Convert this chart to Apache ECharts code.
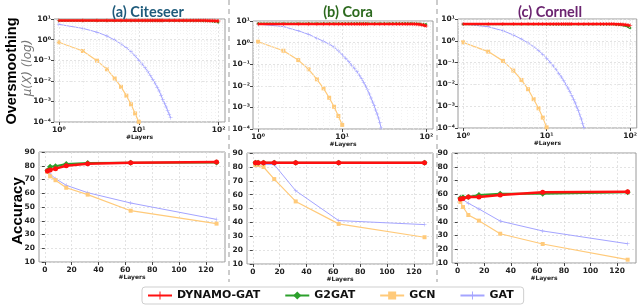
<!DOCTYPE html>
<html><head><meta charset="utf-8">
<script src="https://cdn.jsdelivr.net/npm/echarts@6/dist/echarts.min.js"></script>
<style>html,body{margin:0;padding:0;background:#fff}#c{width:640px;height:307px}</style>
</head><body><div id="c"></div>
<script>
// ---------- data ----------
const seriesNames = ['DYNAMO-GAT', 'G2GAT', 'GCN', 'GAT'];
const panelTitles = ['(a) Citeseer', '(b) Cora', '(c) Cornell'];
const osLayers = [1,2,3,4,5,6,7,8,9,10,11,12,13,14,15,16,17,18,19,20,24,28,32,36,40,44,48,52,56,60,64,68,72,76,80,84,88,92,96,100];
const shortLayers = [1,2,3,4,5,6,7,8,9,10,11,12,13,14,15,16,17,18,19,20,21,22,23,24,25,26,27,28,29];
const accLayers = [2,4,8,16,32,64,128];
const logTicks = [1, 10, 100];
const accXTicks = [0, 20, 40, 60, 80, 100, 120];

// Oversmoothing mu(X)
const dynOsCite = [8.4,8.4,8.4,8.4,8.4,8.4,8.4,8.4,8.4,8.4,8.4,8.4,8.4,8.4,8.4,8.4,8.4,8.4,8.4,8.4,8.4,8.4,8.4,8.4,8.4,8.4,8.4,8.4,8.4,8.4,8.4,8.4,8.3,8.3,8.3,8.2,8.2,8.1,8.0,7.9];
const g2OsCite  = [8.2,8.2,8.2,8.2,8.2,8.2,8.2,8.2,8.2,8.2,8.2,8.2,8.2,8.2,8.2,8.2,8.2,8.2,8.2,8.2,8.2,8.2,8.2,8.2,8.2,8.2,8.2,8.2,8.2,8.2,8.1,8.0,8.0,7.9,7.8,7.7,7.5,7.3,7.1,6.9];
const gcnOsCite = [0.74,0.28,0.095,0.036,0.013,0.0051,0.0019,0.00072,0.00026,0.000102];
const gatOsCite = [5.5,3.5,2.3,1.5,0.95,0.62,0.40,0.26,0.165,0.10,0.066,0.043,0.028,0.018,0.0115,0.0075,0.0049,0.0032,0.0020,0.0012,0.00082,0.00054,0.00036,0.00024,0.00016];

const dynOsCora = [7.3,7.3,7.3,7.3,7.3,7.3,7.3,7.3,7.3,7.3,7.3,7.3,7.3,7.3,7.3,7.3,7.3,7.3,7.3,7.3,7.3,7.3,7.3,7.3,7.3,7.3,7.3,7.3,7.3,7.3,7.3,7.2,7.2,7.1,7.0,6.9,6.7,6.5,6.2,5.8];
const g2OsCora  = [7.6,7.6,7.6,7.6,7.6,7.6,7.6,7.6,7.6,7.6,7.6,7.6,7.6,7.6,7.6,7.6,7.6,7.6,7.6,7.6,7.6,7.6,7.6,7.6,7.6,7.6,7.6,7.6,7.6,7.6,7.6,7.6,7.5,7.5,7.5,7.4,7.3,7.2,7.0,6.8];
const gcnOsCora = [1.1,0.42,0.155,0.058,0.02,0.0076,0.0028,0.00107,0.0004,0.000155];
const gatOsCora = [7.2,5.5,3.5,2.4,1.6,1.15,0.85,0.62,0.42,0.27,0.19,0.13,0.09,0.063,0.045,0.031,0.021,0.0145,0.0098,0.0065,0.0042,0.0027,0.0018,0.0012,0.00076,0.0005,0.00032,0.0002,0.00011];

const dynOsCorn = [5.9,5.9,5.9,5.9,5.9,5.9,5.9,5.9,5.9,5.9,5.9,5.9,5.9,5.9,5.9,5.9,5.9,5.9,5.9,5.9,5.9,5.9,5.9,5.9,5.9,5.9,5.9,5.9,5.9,5.9,5.9,5.8,5.8,5.7,5.6,5.5,5.4,5.3,5.1,5.0];
const g2OsCorn  = [5.8,5.8,5.8,5.8,5.8,5.8,5.8,5.8,5.8,5.8,5.8,5.8,5.8,5.8,5.8,5.8,5.8,5.8,5.8,5.8,5.8,5.8,5.8,5.8,5.8,5.8,5.8,5.8,5.8,5.8,5.7,5.6,5.5,5.4,5.3,5.1,4.9,4.6,4.3,3.9];
const gcnOsCorn = [0.85,0.32,0.12,0.043,0.016,0.006,0.0021,0.0008,0.0003,0.000107];
const gatOsCorn = [5.9,4.4,2.9,1.85,1.2,0.8,0.54,0.36,0.24,0.16,0.105,0.07,0.048,0.032,0.022,0.015,0.0102,0.0069,0.0047,0.0032,0.0021,0.0014,0.00093,0.00062,0.0004,0.00026,0.00016,0.000102];

// Accuracy
const dynAccCite = [76.2,77.0,77.9,80.0,81.5,82.2,82.7];
const g2AccCite  = [76.5,79.3,79.6,81.3,82.0,82.2,82.4];
const gcnAccCite = [75.5,72.3,69.5,64.0,59.0,47.3,37.9];
const gatAccCite = [76.0,74.0,70.6,65.8,60.4,52.9,41.0];

const dynAccCora = [82.9,82.9,82.9,82.9,82.9,82.9,82.9];
const g2AccCora  = [83.0,83.0,83.0,83.0,83.0,83.0,83.0];
const gcnAccCora = [81.3,81.3,79.9,71.2,55.1,38.9,29.3];
const gatAccCora = [82.2,82.2,81.9,81.6,62.8,41.3,38.4];

const dynAccCorn = [56.5,57.0,58.0,58.0,59.5,61.4,61.9];
const g2AccCorn  = [57.3,57.8,58.0,59.5,60.4,60.4,61.4];
const gcnAccCorn = [54.4,50.7,44.9,40.8,31.3,23.8,12.4];
const gatAccCorn = [56.5,56.0,53.5,49.3,40.5,33.3,24.0];

const minorX = [2,3,4,5,6,7,8,9,20,30,40,50,60,70,80,90];
const minorY = [2e-4,3e-4,4e-4,5e-4,6e-4,7e-4,8e-4,9e-4,2e-3,3e-3,4e-3,5e-3,6e-3,7e-3,8e-3,9e-3,0.02,0.03,0.04,0.05,0.06,0.07,0.08,0.09,0.2,0.3,0.4,0.5,0.6,0.7,0.8,0.9,2,3,4,5,6,7,8,9];

// ---------- chart ----------
const FONT = 'DejaVu Sans';
const colors = { dyn: '#ff1010', g2: '#2ca02c', gcn: '#ffca7a', gat: '#a4a4ff' };
const plusPath = 'path://M4.4,0h1.2v4.4h4.4v1.2h-4.4v4.4h-1.2v-4.4h-4.4v-1.2h4.4z';

const grids = [
  {left:54, top:19, width:171, height:103},
  {left:253, top:21, width:180, height:108},
  {left:458, top:19, width:180, height:109},
  {left:39, top:152, width:186, height:110},
  {left:247, top:153, width:186, height:111},
  {left:452, top:153, width:184, height:110}
];
grids.forEach(g => { g.show = true; g.borderColor = '#9a9a9a'; g.borderWidth = 1; });

const supMap = {'-':'⁻','0':'⁰','1':'¹','2':'²','3':'³','4':'⁴'};
function sup(v){ const e = Math.round(Math.log10(v)); return '10' + String(e).split('').map(c=>supMap[c]).join(''); }

const labelStyle = {fontFamily: FONT, fontSize: 7.5, fontWeight: 'bold', color: '#222'};
const xAxes = [], yAxes = [];
for (let i = 0; i < 3; i++) {
  xAxes.push({
    type: 'log', logBase: 10, gridIndex: i, min: 0.87, max: 120,
    name: '#Layers', nameLocation: 'middle', nameGap: 11,
    nameTextStyle: {fontFamily: FONT, fontSize: 6, fontWeight: 'bold', color: '#222'},
    axisLine: {show: false},
    axisTick: {show: true, length: 3, lineStyle: {color: '#444'}, customValues: logTicks},
    axisLabel: Object.assign({margin: 4, formatter: sup, customValues: logTicks}, labelStyle),
    splitLine: {show: true, lineStyle: {color: '#dcdcdc', type: [2, 2], width: 0.8}}
  });
  yAxes.push({
    type: 'log', logBase: 10, gridIndex: i, min: 1e-4, max: 10,
    axisLine: {show: false},
    axisTick: {show: true, length: 3, lineStyle: {color: '#444'}},
    axisLabel: Object.assign({margin: 3, formatter: sup}, labelStyle),
    splitLine: {show: true, lineStyle: {color: '#dcdcdc', type: [2, 2], width: 0.8}}
  });
}
for (let i = 3; i < 6; i++) {
  xAxes.push({
    type: 'value', gridIndex: i, min: -4.3, max: 134.3,
    name: '#Layers', nameLocation: 'middle', nameGap: 11,
    nameTextStyle: {fontFamily: FONT, fontSize: 6, fontWeight: 'bold', color: '#222'},
    axisLine: {show: false},
    axisTick: {show: true, length: 3, lineStyle: {color: '#444'}, customValues: accXTicks},
    axisLabel: Object.assign({margin: 4, customValues: accXTicks}, labelStyle),
    splitLine: {show: true, lineStyle: {color: '#dcdcdc', type: [2, 2], width: 0.8}}
  });
  yAxes.push({
    type: 'value', gridIndex: i, min: 10, max: 90, interval: 10,
    axisLine: {show: false},
    axisTick: {show: true, length: 3, lineStyle: {color: '#444'}},
    axisLabel: Object.assign({margin: 4}, labelStyle),
    splitLine: {show: true, lineStyle: {color: '#dcdcdc', type: [2, 2], width: 0.8}}
  });
}

function pairs(xs, ys){ return ys.map((v, k) => [xs[k], v]); }
const series = [];
function addPanel(idx, dyn, g2, gcn, gat, xsLong, xsShort, isOs) {
  const base = {type: 'line', xAxisIndex: idx, yAxisIndex: idx, animation: false, clip: true};
  const s = [];
  s.push(Object.assign({}, base, {name: 'GAT', data: pairs(xsShort, gat), z: 2,
    symbol: plusPath, symbolSize: 4,
    lineStyle: {color: colors.gat, width: 1}, itemStyle: {color: colors.gat}}));
  s.push(Object.assign({}, base, {name: 'GCN', data: pairs(isOs ? xsShort : xsLong, gcn), z: 3,
    symbol: 'rect', symbolSize: 4,
    lineStyle: {color: colors.gcn, width: 1.2}, itemStyle: {color: colors.gcn}}));
  s.push(Object.assign({}, base, {name: 'G2GAT', data: pairs(xsLong, g2), z: 4,
    symbol: 'diamond', symbolSize: isOs ? 3 : 6,
    lineStyle: {color: colors.g2, width: 2}, itemStyle: {color: colors.g2}}));
  s.push(Object.assign({}, base, {name: 'DYNAMO-GAT', data: pairs(xsLong, dyn), z: 5,
    symbol: isOs ? plusPath : 'circle', symbolSize: isOs ? 4 : 5,
    lineStyle: {color: colors.dyn, width: 2.5}, itemStyle: {color: colors.dyn}}));
  if (isOs) {
    s[0].markLine = {silent: true, symbol: 'none', animation: false, label: {show: false},
      lineStyle: {color: '#ececec', type: [1, 2], width: 0.7},
      data: minorX.map(v => ({xAxis: v})).concat(minorY.map(v => ({yAxis: v})))};
  }
  series.push(...s);
}
addPanel(0, dynOsCite, g2OsCite, gcnOsCite, gatOsCite, osLayers, shortLayers, true);
addPanel(1, dynOsCora, g2OsCora, gcnOsCora, gatOsCora, osLayers, shortLayers, true);
addPanel(2, dynOsCorn, g2OsCorn, gcnOsCorn, gatOsCorn, osLayers, shortLayers, true);
addPanel(3, dynAccCite, g2AccCite, gcnAccCite, gatAccCite, accLayers, accLayers, false);
addPanel(4, dynAccCora, g2AccCora, gcnAccCora, gatAccCora, accLayers, accLayers, false);
addPanel(5, dynAccCorn, g2AccCorn, gcnAccCorn, gatAccCorn, accLayers, accLayers, false);

const titleColors = ['#1e5b7b', '#2d6a1f', '#6b2470'];
const titleX = [143, 343, 545];
const titles = panelTitles.map((t, i) => ({
  text: t, left: titleX[i], top: 0, textAlign: 'center',
  textStyle: {fontFamily: 'Lato', fontWeight: 'bold', fontSize: 14.5, color: titleColors[i]}
}));

const chart = echarts.init(document.getElementById('c'), null, {renderer: 'canvas'});
chart.setOption({
  backgroundColor: '#fff',
  animation: false,
  title: titles,
  grid: grids,
  xAxis: xAxes,
  yAxis: yAxes,
  series: series,
  legend: {
    data: seriesNames, left: 142, top: 287, width: 388,
    itemWidth: 24, itemHeight: 10, itemGap: 24,
    padding: [3, 10, 3, 5],
    borderColor: '#cfcfcf', borderWidth: 1, borderRadius: 3,
    textStyle: {fontFamily: FONT, fontSize: 11, fontWeight: 'bold', color: '#111'}
  },
  graphic: [
    {type: 'line', shape: {x1: 229, y1: 0, x2: 229, y2: 282}, style: {stroke: '#cccccc', lineWidth: 2, lineDash: [5, 4]}, silent: true},
    {type: 'line', shape: {x1: 437, y1: 0, x2: 437, y2: 282}, style: {stroke: '#cccccc', lineWidth: 2, lineDash: [5, 4]}, silent: true},
    {type: 'text', x: 12, y: 71, rotation: Math.PI / 2, style: {text: 'Oversmoothing', fontFamily: 'Liberation Sans', fontWeight: 'bold', fontSize: 14.5, fill: '#000', align: 'center', verticalAlign: 'middle'}},
    {type: 'text', x: 28, y: 68, rotation: Math.PI / 2, style: {text: 'μ(X) (log)', fontFamily: 'DejaVu Sans', fontStyle: 'italic', fontSize: 12, fill: '#777', align: 'center', verticalAlign: 'middle'}},
    {type: 'text', x: 18, y: 211, rotation: Math.PI / 2, style: {text: 'Accuracy', fontFamily: 'Liberation Sans', fontWeight: 'bold', fontSize: 15, fill: '#000', align: 'center', verticalAlign: 'middle'}}
  ]
});
</script></body></html>
